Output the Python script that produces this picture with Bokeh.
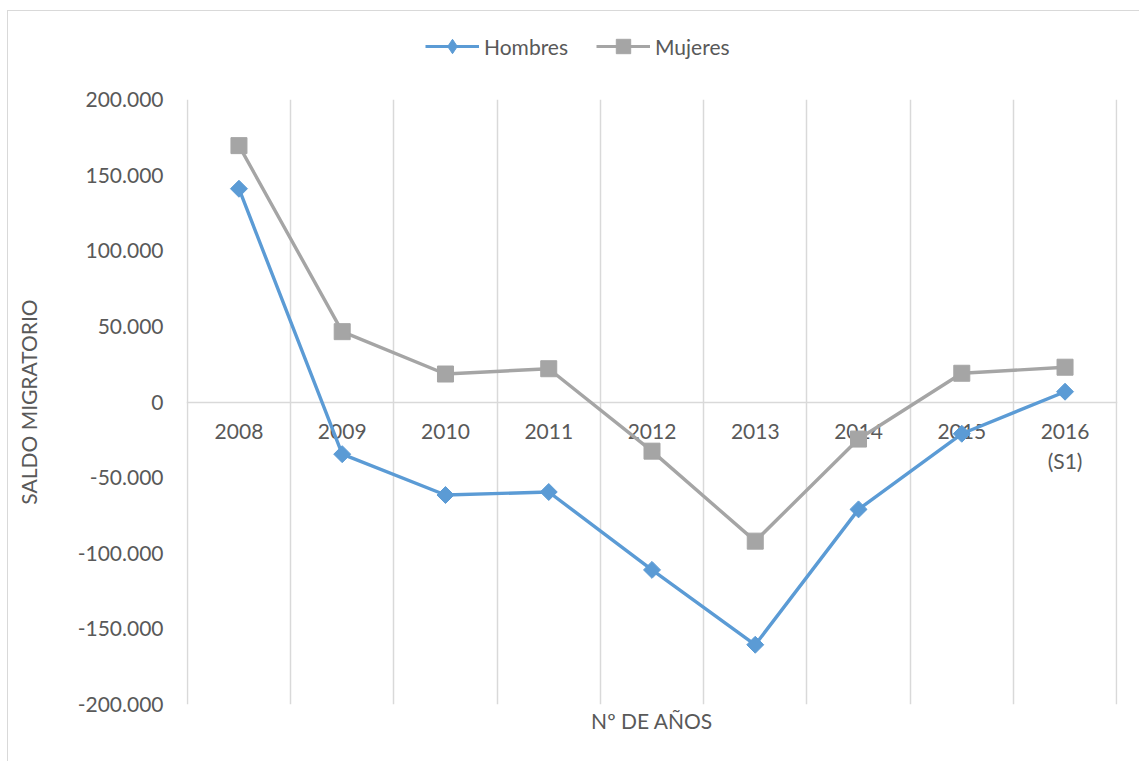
import math
from bokeh.plotting import figure
from bokeh.layouts import column
from bokeh.models import FixedTicker, Legend, LegendItem, ColumnDataSource, Range1d
from bokeh.core.properties import value
from bokeh.embed import file_html
from bokeh.resources import INLINE

# ---- data ----
years = ["2008", "2009", "2010", "2011", "2012", "2013", "2014", "2015", "2016\n(S1)"]
hombres = [141000, -34500, -61500, -59500, -111000, -160500, -71000, -21000, 6800]
mujeres = [169500, 46500, 18500, 22000, -32500, -92000, -24500, 19000, 23000]
y_ticks = [-200000, -150000, -100000, -50000, 0, 50000, 100000, 150000, 200000]
y_tick_labels = ["-200.000", "-150.000", "-100.000", "-50.000", "0",
                 "50.000", "100.000", "150.000", "200.000"]
series_names = ["Hombres", "Mujeres"]

FONT = "Lato"
TXT = "#595959"
GRID = "#d9d9d9"
BLUE = "#5B9BD5"
GREY = "#A5A5A5"

n = len(years)
xs = list(range(n))
EPS = 0.008  # keeps the outer category boundary lines just inside the frame

# ---- legend strip (top part of the chart) ----
lf = figure(width=1131, height=76, output_backend="svg", toolbar_location=None, title=None,
            x_range=Range1d(0, 1), y_range=Range1d(0, 1),
            x_axis_location=None, y_axis_location=None, min_border=0)
lf.outline_line_color = None
lf.grid.visible = False
lg1 = lf.line(xs, hombres, line_color=BLUE, line_width=3.2, visible=False)
lg1m = lf.scatter(xs, hombres, marker="diamond", fill_color=BLUE, line_color=BLUE, visible=False)
lg2 = lf.line(xs, mujeres, line_color=GREY, line_width=3.2, visible=False)
lg2m = lf.scatter(xs, mujeres, marker="square", fill_color=GREY, line_color=GREY, visible=False)
legend = Legend(items=[LegendItem(label=series_names[0], renderers=[lg1, lg1m]),
                       LegendItem(label=series_names[1], renderers=[lg2, lg2m])],
                orientation="horizontal", location=(239, 23),
                border_line_color=None, background_fill_alpha=0,
                glyph_width=54, glyph_height=36, label_standoff=5, spacing=28,
                padding=0, margin=0,
                label_text_font=FONT, label_text_font_size="21px", label_text_color=TXT)
lf.add_layout(legend)

# ---- main plot ----
p = figure(width=1131, height=674, output_backend="svg", toolbar_location=None, title=None,
           x_range=Range1d(-0.5 - EPS, n - 0.5 + EPS), y_range=Range1d(y_ticks[0], y_ticks[-1]),
           min_border_left=178, min_border_right=22, min_border_top=12, min_border_bottom=57)
p.outline_line_color = None
p.background_fill_color = "white"

# grids: vertical lines between categories, horizontal line at zero
p.xgrid.ticker = FixedTicker(ticks=[i - 0.5 for i in range(n + 1)])
p.xgrid.grid_line_color = GRID
p.xgrid.grid_line_width = 1.5
p.ygrid.ticker = FixedTicker(ticks=[0])
p.ygrid.grid_line_color = GRID
p.ygrid.grid_line_width = 1.5

# y axis
p.yaxis.ticker = FixedTicker(ticks=y_ticks)
p.yaxis.major_label_overrides = {t: l for t, l in zip(y_ticks, y_tick_labels)}
p.yaxis.axis_line_color = None
p.yaxis.major_tick_line_color = None
p.yaxis.minor_tick_line_color = None
p.yaxis.major_tick_out = 0
p.yaxis.major_label_standoff = 23
p.yaxis.major_label_text_font = FONT
p.yaxis.major_label_text_font_size = "21px"
p.yaxis.major_label_text_color = TXT
p.yaxis.axis_label = "SALDO MIGRATORIO"
p.yaxis.axis_label_text_font = FONT
p.yaxis.axis_label_text_font_size = "21px"
p.yaxis.axis_label_text_font_style = "normal"
p.yaxis.axis_label_text_color = TXT
p.yaxis.axis_label_standoff = 34

# x axis: only the title
p.xaxis.ticker = FixedTicker(ticks=[])
p.xaxis.axis_line_color = None
p.xaxis.major_tick_line_color = None
p.xaxis.minor_tick_line_color = None
p.xaxis.major_tick_out = 0
p.xaxis.major_label_standoff = 0
p.xaxis.axis_label = "Nº DE AÑOS"
p.xaxis.axis_label_text_font = FONT
p.xaxis.axis_label_text_font_size = "21px"
p.xaxis.axis_label_text_font_style = "normal"
p.xaxis.axis_label_text_color = TXT
p.xaxis.axis_label_standoff = 3

# category labels just below the zero line (second lines drawn one line lower)
parts = [y.split("\n") for y in years]
first = ColumnDataSource(dict(x=xs, y=[0] * n, text=[pp[0] for pp in parts]))
second = ColumnDataSource(dict(x=[i for i, pp in enumerate(parts) if len(pp) > 1],
                               y=[0 for pp in parts if len(pp) > 1],
                               text=[pp[1] for pp in parts if len(pp) > 1]))
for src, off in ((first, 22), (second, 46)):
    p.text(x="x", y="y", text="text", source=src, text_align="center", text_baseline="top",
           y_offset=off, text_font=value(FONT), text_font_size="21px", text_color=TXT)

# series
p.line(xs, hombres, line_color=BLUE, line_width=3.4)
p.scatter(xs, hombres, marker="square", angle=math.pi / 4, size=12,
          fill_color=BLUE, line_color=BLUE)
p.line(xs, mujeres, line_color=GREY, line_width=3.4)
p.scatter(xs, mujeres, marker="square", size=16, fill_color=GREY, line_color=GREY)

layout = column(lf, p, spacing=0)
layout.styles = {"border-left": "1px solid #d9d9d9", "border-top": "1px solid #d9d9d9",
                 "margin-top": "10px", "margin-left": "7px"}

open("out.html", "w").write(file_html(layout, INLINE))
